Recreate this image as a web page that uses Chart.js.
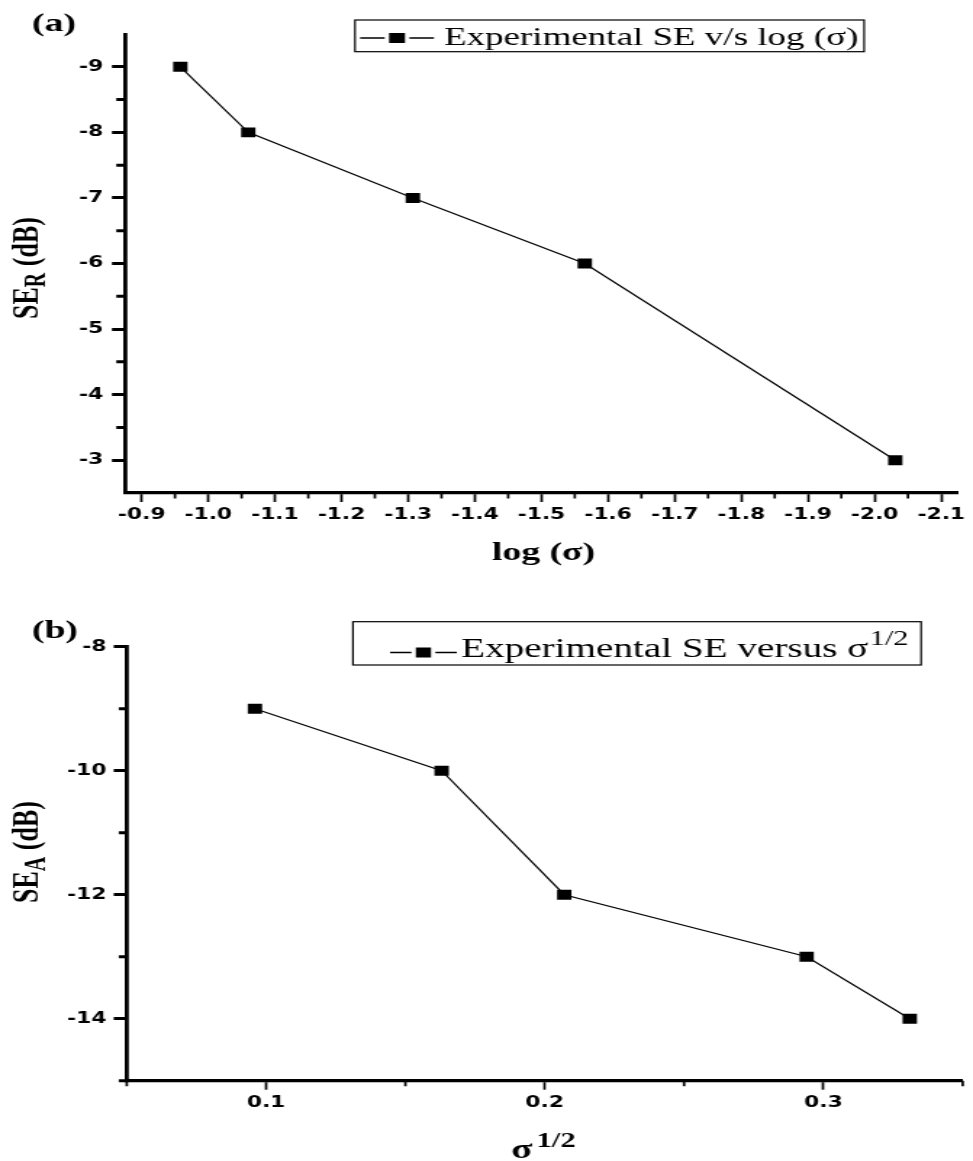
<!DOCTYPE html>
<html>
<head>
<meta charset="utf-8">
<style>
  html, body { margin: 0; padding: 0; background: #fff; }
  #page { position: relative; width: 973px; height: 1161px; overflow: hidden; }
  canvas { position: absolute; left: 0; display: block; }
</style>
<script src="https://cdn.jsdelivr.net/npm/chart.js@4/dist/chart.umd.min.js"></script>
</head>
<body>
<div id="page">
  <!-- drawn narrow and stretched sideways, like the original figure -->
  <canvas id="chartA" width="671" height="580" style="top:0;width:973px;height:580px"></canvas>
  <canvas id="chartB" width="671" height="581" style="top:580px;width:973px;height:581px"></canvas>
</div>
<script>
// (a) SE_R against log(sigma)
const logSigma = [-0.958, -1.060, -1.307, -1.565, -2.031];
const seR = [-9, -8, -7, -6, -3];
const xTicksA = [-0.9, -1.0, -1.1, -1.2, -1.3, -1.4, -1.5, -1.6, -1.7, -1.8, -1.9, -2.0, -2.1];
const xMinorA = [-0.95, -1.05, -1.15, -1.25, -1.35, -1.45, -1.55, -1.65, -1.75, -1.85, -1.95, -2.05];
const yTicksA = [-9, -8, -7, -6, -5, -4, -3];
const yMinorA = [-8.5, -7.5, -6.5, -5.5, -4.5, -3.5];

// (b) SE_A against sigma^1/2
const sigmaHalf = [0.096, 0.163, 0.207, 0.294, 0.331];
const seA = [-9, -10, -12, -13, -14];
const xTicksB = [0.1, 0.2, 0.3];
const xMinorB = [0.05, 0.15, 0.25, 0.35];
const yTicksB = [-8, -10, -12, -14];
const yMinorB = [-9, -11, -13, -15];

const SERIF = '"Liberation Serif", "Times New Roman", serif';
const tickFont = { family: '"DejaVu Sans", sans-serif', size: 15, weight: 'bold' };

function series(xs, ys) {
  return xs.map((x, i) => ({ x: x, y: ys[i] }));
}

// draw text pieces one after another: [text, font, dy, dx]
function runs(ctx, parts, x, y, align) {
  let total = 0;
  parts.forEach(p => {
    ctx.font = p[1];
    total += ctx.measureText(p[0]).width + (p[3] || 0);
  });
  let cx = align === 'center' ? x - total / 2 : x;
  parts.forEach(p => {
    ctx.font = p[1];
    cx += p[3] || 0;
    ctx.fillText(p[0], cx, y + (p[2] || 0));
    cx += ctx.measureText(p[0]).width;
  });
}

// legend sample: line, square, line
function sample(ctx, x0, x1, y, sq) {
  const mid = (x0 + x1) / 2;
  ctx.lineWidth = 1.4;
  ctx.beginPath();
  ctx.moveTo(x0, y);
  ctx.lineTo(mid - sq / 2 - 3, y);
  ctx.moveTo(mid + sq / 2 + 3, y);
  ctx.lineTo(x1, y);
  ctx.stroke();
  ctx.fillRect(mid - sq / 2, y - 5, sq, 10);
}

const minorTicks = {
  id: 'minorTicks',
  afterDraw(chart, args, opts) {
    const ctx = chart.ctx;
    const xs = chart.scales.x, ys = chart.scales.y;
    ctx.save();
    ctx.strokeStyle = '#000';
    ctx.lineWidth = opts.xWidth;
    ctx.beginPath();
    opts.x.forEach(v => {
      const px = xs.getPixelForValue(v);
      ctx.moveTo(px, xs.top);
      ctx.lineTo(px, xs.top + opts.xLen);
    });
    ctx.stroke();
    ctx.lineWidth = opts.yWidth;
    ctx.beginPath();
    opts.y.forEach(v => {
      const py = ys.getPixelForValue(v);
      ctx.moveTo(ys.right, py);
      ctx.lineTo(ys.right - opts.yLen, py);
    });
    ctx.stroke();
    ctx.restore();
  }
};

function axis(cfg) {
  return {
    type: 'linear',
    min: cfg.min,
    max: cfg.max,
    reverse: !!cfg.reverse,
    afterBuildTicks: s => { s.ticks = cfg.ticks.map(v => ({ value: v })); },
    afterFit: s => {
      if (cfg.width) { s.width = cfg.width; s.paddingTop = 0; s.paddingBottom = 0; }
      if (cfg.height) { s.height = cfg.height; s.paddingLeft = 0; s.paddingRight = 0; }
    },
    grid: {
      drawOnChartArea: false,
      drawTicks: true,
      tickLength: 9,
      tickWidth: cfg.tickWidth,
      tickColor: '#000'
    },
    border: { display: true, color: '#000', width: cfg.border },
    ticks: {
      color: '#000',
      font: tickFont,
      padding: cfg.padding,
      autoSkip: false,
      maxRotation: 0,
      callback: cfg.fmt
    }
  };
}

function lineData(xs, ys) {
  return {
    datasets: [{
      data: series(xs, ys),
      borderColor: '#000',
      borderWidth: 1.2,
      tension: 0,
      fill: false,
      pointStyle: 'rect',
      pointRadius: 7,
      pointHoverRadius: 7,
      pointBackgroundColor: '#000',
      pointBorderWidth: 0
    }]
  };
}

const baseOptions = {
  responsive: false,
  animation: false,
  devicePixelRatio: 1,
  events: []
};

new Chart(document.getElementById('chartA'), {
  type: 'line',
  data: lineData(logSigma, seR),
  options: Object.assign({}, baseOptions, {
    layout: { padding: { left: 0, top: 34, right: 10.4, bottom: 0 }, autoPadding: false },
    plugins: {
      legend: { display: false },
      tooltip: { enabled: false },
      minorTicks: { x: xMinorA, y: yMinorA, xLen: 5.5, yLen: 6, xWidth: 1.7, yWidth: 3 }
    },
    scales: {
      x: axis({ min: -2.125, max: -0.875, reverse: true, ticks: xTicksA, height: 87,
        tickWidth: 1.7, border: 3.2, padding: 4, fmt: v => v.toFixed(1) }),
      y: axis({ min: -9.5, max: -2.5, reverse: true, ticks: yTicksA, width: 86.2,
        tickWidth: 3, border: 2.8, padding: 6, fmt: v => String(v) })
    }
  }),
  plugins: [minorTicks, {
    id: 'decoA',
    afterDraw(chart) {
      const ctx = chart.ctx;
      ctx.save();
      ctx.fillStyle = '#000';
      ctx.strokeStyle = '#000';
      ctx.textBaseline = 'alphabetic';
      ctx.textAlign = 'left';
      runs(ctx, [['(a)', 'bold 26px ' + SERIF]], 22, 31);
      // legend
      ctx.lineWidth = 1.2;
      ctx.strokeRect(244.8, 20, 351.1, 31.7);
      sample(ctx, 248.3, 299.3, 38, 11);
      runs(ctx, [['Experimental SE v/s log (\u03c3)', '25.5px ' + SERIF]], 306.2, 44.5);
      // axis titles
      runs(ctx, [['log (\u03c3)', 'bold 26px ' + SERIF]], 374.8, 559.5, 'center');
      ctx.translate(25.5, 268);
      ctx.rotate(-Math.PI / 2);
      runs(ctx, [['SE', 'bold 26px ' + SERIF], ['R', 'bold 20px ' + SERIF, 5], [' (dB)', 'bold 26px ' + SERIF]], 0, 0, 'center');
      ctx.restore();
    }
  }]
});

new Chart(document.getElementById('chartB'), {
  type: 'line',
  data: lineData(sigmaHalf, seA),
  options: Object.assign({}, baseOptions, {
    layout: { padding: { left: 0, top: 66.7, right: 7.1, bottom: 0 }, autoPadding: false },
    plugins: {
      legend: { display: false },
      tooltip: { enabled: false },
      minorTicks: { x: xMinorB, y: yMinorB, xLen: 5.5, yLen: 5.5, xWidth: 1.7, yWidth: 3 }
    },
    scales: {
      x: axis({ min: 0.05, max: 0.35, ticks: xTicksB, height: 80.3,
        tickWidth: 1.7, border: 3.2, padding: 4, fmt: v => v.toFixed(1) }),
      y: axis({ min: -15, max: -8, ticks: yTicksB, width: 87.4,
        tickWidth: 3, border: 2.8, padding: 5, fmt: v => String(v) })
    }
  }),
  plugins: [minorTicks, {
    id: 'decoB',
    afterDraw(chart) {
      const ctx = chart.ctx;
      ctx.save();
      ctx.fillStyle = '#000';
      ctx.strokeStyle = '#000';
      ctx.textBaseline = 'alphabetic';
      ctx.textAlign = 'left';
      runs(ctx, [['(b)', 'bold 26px ' + SERIF]], 22, 57.5);
      // legend
      ctx.lineWidth = 1.2;
      ctx.strokeRect(243.4, 41.7, 391.8, 43.3);
      sample(ctx, 269, 315, 72.5, 10.5);
      runs(ctx, [['Experimental SE versus \u03c3', '27px ' + SERIF], ['1/2', '21px ' + SERIF, -12, 1]], 318, 77);
      // axis titles
      runs(ctx, [['\u03c3', 'bold 27px ' + SERIF], ['1/2', 'bold 21px ' + SERIF, -11.6, 3]], 352.4, 578.3);
      ctx.translate(25.5, 272);
      ctx.rotate(-Math.PI / 2);
      runs(ctx, [['SE', 'bold 26px ' + SERIF], ['A', 'bold 20px ' + SERIF, 5], [' (dB)', 'bold 26px ' + SERIF]], 0, 0, 'center');
      ctx.restore();
    }
  }]
});
</script>
</body>
</html>
